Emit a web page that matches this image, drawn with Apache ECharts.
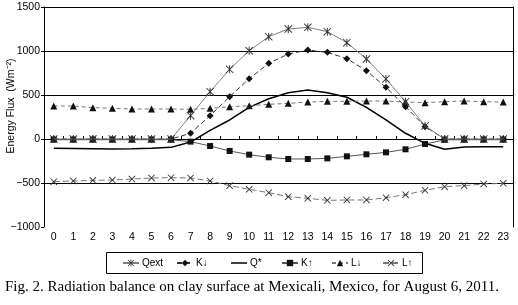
<!DOCTYPE html>
<html>
<head>
<meta charset="utf-8">
<script src="https://cdn.jsdelivr.net/npm/echarts@6/dist/echarts.min.js"></script>
<style>html,body{margin:0;padding:0;background:#fff}#c{width:518px;height:305px}</style>
</head>
<body>
<div id="c"></div>
<script>
var hours = ['0','1','2','3','4','5','6','7','8','9','10','11','12','13','14','15','16','17','18','19','20','21','22','23'];
var yTicks = [-1000, -500, 0, 500, 1000, 1500];
var qext = [0,0,0,0,0,0,0,265,538,792,1003,1163,1250,1269,1220,1095,909,682,424,148,0,0,0,0];
var kDown = [0,0,0,0,0,0,0,65,265,481,685,860,966,1011,985,913,776,587,367,140,0,0,0,0];
var qStar = [-106,-108,-110,-113,-110,-105,-95,-35,98,216,360,458,526,557,526,474,360,216,65,-49,-117,-90,-88,-88];
var kUp = [-8,-8,-8,-8,-8,-8,-8,-30,-80,-136,-178,-208,-227,-227,-220,-197,-174,-152,-117,-57,-10,-8,-8,-8];
var lDown = [375,375,356,349,341,341,341,337,349,367,378,394,405,420,428,428,432,432,420,413,424,432,424,420];
var lUp = [-485,-477,-470,-466,-455,-443,-439,-443,-477,-530,-572,-610,-655,-674,-697,-693,-693,-667,-633,-583,-542,-530,-511,-504];
var seriesNames = ['Qext', 'K\u2193', 'Q*', 'K\u2191', 'L\u2193', 'L\u2191'];

var asterisk = 'path://M4.4 0L5.6 0L5.6 10L4.4 10Z M0 0.8L0.8 0L10 9.2L9.2 10Z M9.2 0L10 0.8L0.8 10L0 9.2Z';
var cross = 'path://M0 0.9L0.9 0L10 9.1L9.1 10Z M9.1 0L10 0.9L0.9 10L0 9.1Z';
var thickLine = 'path://M0 0L16 0L16 0.01L0 0.01Z M0 3.2L16 3.2L16 4.8L0 4.8Z M0 7.99L16 7.99L16 8L0 8Z';

var chart = echarts.init(document.getElementById('c'), null, {renderer: 'canvas'});
var font = 'Liberation Sans, Arial, sans-serif';
function fmt(v){ return v < 0 ? '\u2212' + Math.abs(v) : String(v); }

var legendLefts = [122, 176, 231, 281, 331, 382];
var legends = seriesNames.map(function (n, i) {
  var item = {name: n};
  if (n === 'Q*') { item.icon = thickLine; item.itemStyle = {color: '#000'}; }
  return {
    left: legendLefts[i], top: 258, padding: 0,
    itemWidth: 16, itemHeight: 8, itemGap: 0,
    textStyle: {fontSize: 10, color: '#000', fontFamily: font, padding: [0, 0, 0, -2]},
    data: [item]
  };
});

chart.setOption({
  animation: false,
  backgroundColor: '#fff',
  textStyle: {fontFamily: font},
  grid: {left: 44, right: 5, top: 7, height: 220},
  title: {
    text: 'Fig. 2. Radiation balance on clay surface at Mexicali, Mexico, for August 6, 2011.',
    left: 5, top: 280, padding: 0,
    textStyle: {fontFamily: 'Liberation Serif, Times New Roman, serif', fontSize: 15, fontWeight: 'normal', color: '#000'}
  },
  legend: legends,
  graphic: [
    {type: 'rect', shape: {x: 106.5, y: 252.5, width: 316, height: 21}, style: {fill: 'none', stroke: '#000', lineWidth: 1}, silent: true},
    {type: 'text', x: 11, y: 106, rotation: Math.PI / 2,
     style: {text: 'Energy Flux  (Wm\u207B\u00B2)', fontSize: 10.5, fontFamily: font, fill: '#000', align: 'center', verticalAlign: 'middle'}}
  ],
  xAxis: [
    {type: 'category', data: hours, position: 'bottom', boundaryGap: true,
     axisLine: {show: false, onZero: false}, axisTick: {show: false},
     axisLabel: {fontSize: 10.5, color: '#000', margin: 5, interval: 0}},
    {type: 'category', data: hours, position: 'bottom', boundaryGap: true,
     axisLine: {show: true, onZero: true, onZeroAxisIndex: 0, lineStyle: {color: '#000', width: 1}},
     axisTick: {show: true, inside: true, length: 3, interval: 0, lineStyle: {color: '#000'}},
     axisLabel: {show: false}}
  ],
  yAxis: [
    {type: 'value', min: -1000, max: 1500, interval: 500,
     axisLine: {show: true, lineStyle: {color: '#000'}},
     axisTick: {show: true, length: 3, lineStyle: {color: '#000'}},
     axisLabel: {fontSize: 10.5, color: '#000', margin: 4, formatter: fmt},
     splitLine: {show: true, showMinLine: false, lineStyle: {color: '#000', width: 1}}},
    {type: 'value', min: -1000, max: 1500, interval: 500, position: 'right',
     axisLine: {show: true, lineStyle: {color: '#000'}},
     axisTick: {show: false}, axisLabel: {show: false}, splitLine: {show: false}}
  ],
  series: [
    {name: seriesNames[0], type: 'line', data: qext, symbol: asterisk, symbolSize: 8, z: 5,
     lineStyle: {color: '#808080', width: 1}, itemStyle: {color: '#333'}},
    {name: seriesNames[1], type: 'line', data: kDown, symbol: 'diamond', symbolSize: 7, z: 4,
     lineStyle: {color: '#333', width: 1, type: [5, 3]}, itemStyle: {color: '#111'}},
    {name: seriesNames[2], type: 'line', data: qStar, symbol: 'none', z: 3,
     lineStyle: {color: '#000', width: 1.5}, itemStyle: {color: '#000'}},
    {name: seriesNames[3], type: 'line', data: kUp, symbol: 'rect', symbolSize: 6, z: 3,
     lineStyle: {color: '#555', width: 1}, itemStyle: {color: '#111'}},
    {name: seriesNames[4], type: 'line', data: lDown, symbol: 'triangle', symbolSize: 7, z: 3,
     lineStyle: {color: '#777', width: 1, type: [4, 3]}, itemStyle: {color: '#111'}},
    {name: seriesNames[5], type: 'line', data: lUp, symbol: cross, symbolSize: 7, z: 3,
     lineStyle: {color: '#777', width: 1, type: [6, 3]}, itemStyle: {color: '#333'}}
  ]
});
</script>
</body>
</html>
